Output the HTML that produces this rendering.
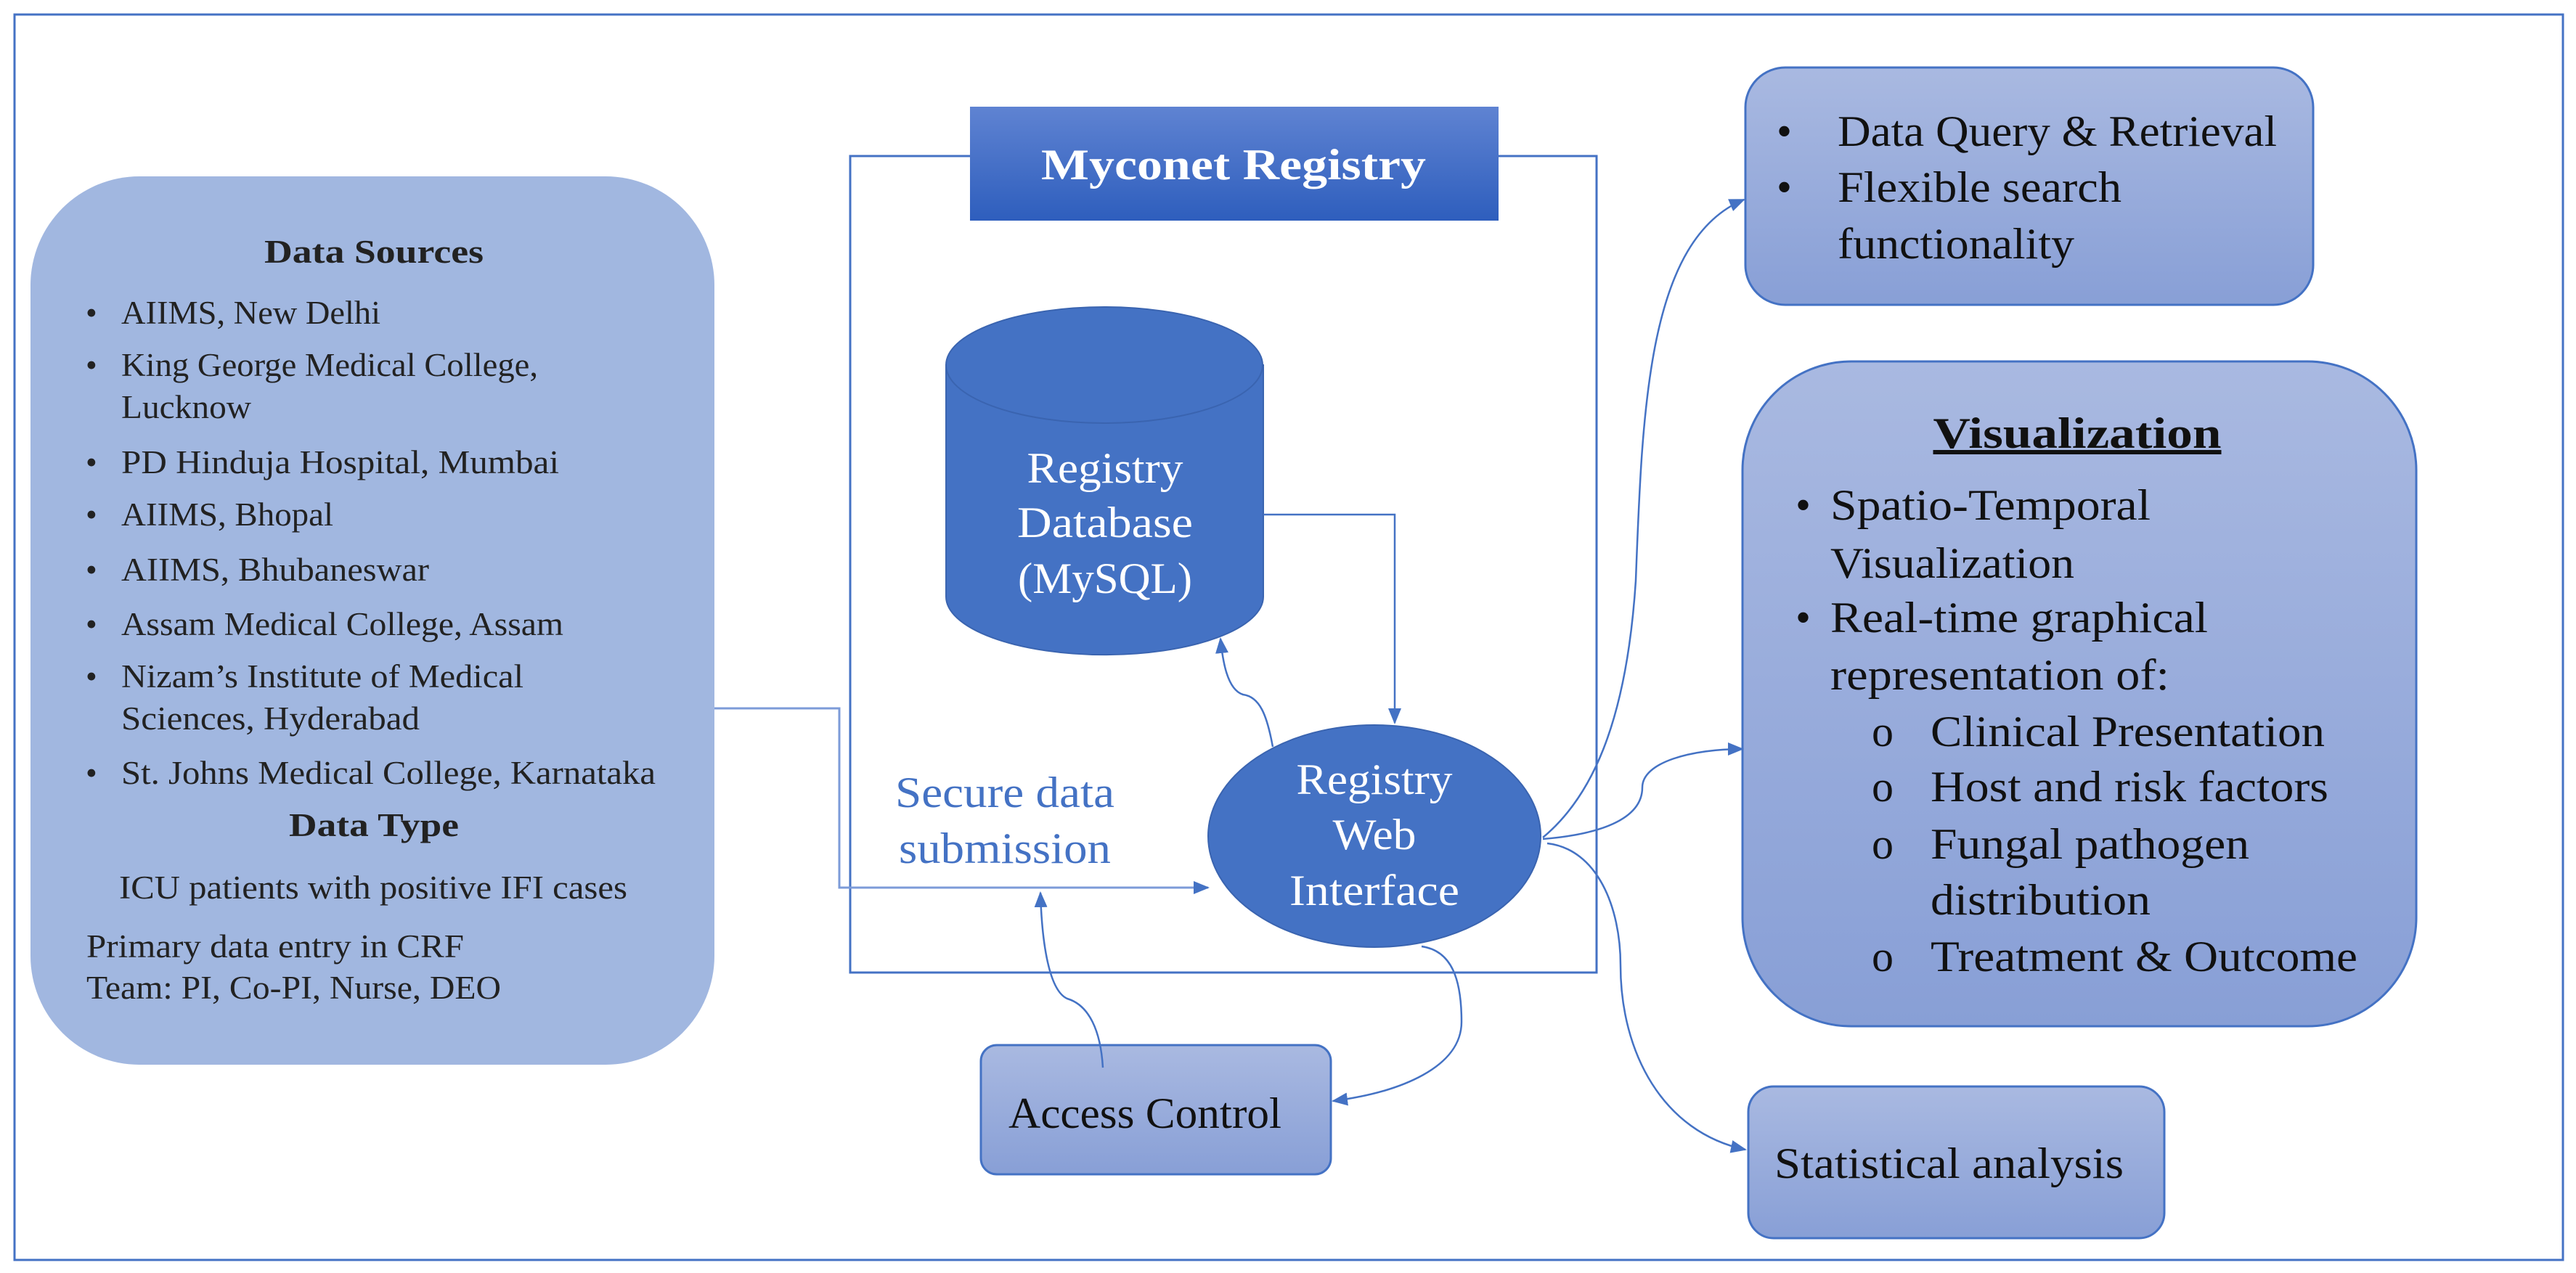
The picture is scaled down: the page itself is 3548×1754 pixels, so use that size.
<!DOCTYPE html>
<html><head><meta charset="utf-8"><style>
html,body{margin:0;padding:0;background:#fff}
svg{display:block}
text{font-family:"Liberation Serif",serif}
</style></head><body>
<svg width="3548" height="1754" viewBox="0 0 3548 1754" xmlns="http://www.w3.org/2000/svg">
<defs>
<linearGradient id="g1" x1="0" y1="0" x2="0" y2="1"><stop offset="0" stop-color="#A9B9E1"/><stop offset="1" stop-color="#889FD6"/></linearGradient>
<linearGradient id="g2" x1="0" y1="0" x2="0" y2="1"><stop offset="0" stop-color="#5F83D2"/><stop offset="1" stop-color="#2E5EBD"/></linearGradient>
<marker id="a" markerWidth="22" markerHeight="22" refX="20" refY="11" orient="auto" markerUnits="userSpaceOnUse"><path d="M0,2 L22,11 L0,20 z" fill="#4472C4"/></marker>
</defs>
<rect x="20" y="20" width="3510" height="1716" fill="none" stroke="#4472C4" stroke-width="3"/>

<!-- left box -->
<rect x="42" y="243" width="942" height="1224" rx="150" fill="#A1B7E0"/>
<g fill="#222" font-size="45">
<text x="515" y="362" text-anchor="middle" font-weight="bold" textLength="302" lengthAdjust="spacingAndGlyphs">Data Sources</text>
<text x="118" y="446">•</text><text x="167" y="446" textLength="357" lengthAdjust="spacingAndGlyphs">AIIMS, New Delhi</text>
<text x="118" y="518">•</text><text x="167" y="518" textLength="574" lengthAdjust="spacingAndGlyphs">King George Medical College,</text>
<text x="167" y="576" textLength="179" lengthAdjust="spacingAndGlyphs">Lucknow</text>
<text x="118" y="652">•</text><text x="167" y="652" textLength="603" lengthAdjust="spacingAndGlyphs">PD Hinduja  Hospital,  Mumbai</text>
<text x="118" y="724">•</text><text x="167" y="724" textLength="292" lengthAdjust="spacingAndGlyphs">AIIMS, Bhopal</text>
<text x="118" y="800">•</text><text x="167" y="800" textLength="424" lengthAdjust="spacingAndGlyphs">AIIMS, Bhubaneswar</text>
<text x="118" y="875">•</text><text x="167" y="875" textLength="609" lengthAdjust="spacingAndGlyphs">Assam Medical College,  Assam</text>
<text x="118" y="947">•</text><text x="167" y="947" textLength="554" lengthAdjust="spacingAndGlyphs">Nizam’s Institute of Medical</text>
<text x="167" y="1005" textLength="411" lengthAdjust="spacingAndGlyphs">Sciences, Hyderabad</text>
<text x="118" y="1080">•</text><text x="167" y="1080" textLength="736" lengthAdjust="spacingAndGlyphs">St. Johns Medical College,  Karnataka</text>
<text x="515" y="1152" text-anchor="middle" font-weight="bold" textLength="234" lengthAdjust="spacingAndGlyphs">Data Type</text>
<text x="164" y="1238" textLength="700" lengthAdjust="spacingAndGlyphs">ICU patients with positive IFI cases</text>
<text x="119" y="1319" textLength="520" lengthAdjust="spacingAndGlyphs">Primary data entry in CRF</text>
<text x="119" y="1376" textLength="571" lengthAdjust="spacingAndGlyphs">Team: PI, Co-PI, Nurse, DEO</text>
</g>

<!-- container -->
<rect x="1171" y="215" width="1028" height="1125" fill="none" stroke="#4472C4" stroke-width="3"/>
<rect x="1336" y="147" width="728" height="157" fill="url(#g2)"/>
<text x="1434" y="247" fill="#fff" font-size="60" font-weight="bold" textLength="530" lengthAdjust="spacingAndGlyphs">Myconet Registry</text>

<!-- cylinder -->
<path d="M1303,503 L1303,822 A218,80 0 0 0 1740,822 L1740,503 Z" fill="#4472C4" stroke="#3A64B0" stroke-width="2"/>
<ellipse cx="1521" cy="503" rx="218" ry="80" fill="#4472C4" stroke="#3A64B0" stroke-width="2"/>
<g fill="#fff" font-size="60" text-anchor="middle">
<text x="1522" y="665" textLength="215" lengthAdjust="spacingAndGlyphs">Registry</text>
<text x="1522" y="740" textLength="242" lengthAdjust="spacingAndGlyphs">Database</text>
<text x="1522" y="817" textLength="240" lengthAdjust="spacingAndGlyphs">(MySQL)</text>
</g>

<!-- ellipse -->
<ellipse cx="1893" cy="1152" rx="229" ry="153" fill="#4472C4" stroke="#3A64B0" stroke-width="2"/>
<g fill="#fff" font-size="60" text-anchor="middle">
<text x="1893" y="1094" textLength="215" lengthAdjust="spacingAndGlyphs">Registry</text>
<text x="1893" y="1170" textLength="115" lengthAdjust="spacingAndGlyphs">Web</text>
<text x="1893" y="1247" textLength="234" lengthAdjust="spacingAndGlyphs">Interface</text>
</g>

<g fill="#4472C4" font-size="60">
<text x="1233" y="1112" textLength="302" lengthAdjust="spacingAndGlyphs">Secure data</text>
<text x="1238" y="1189" textLength="292" lengthAdjust="spacingAndGlyphs">submission</text>
</g>

<!-- access control -->
<rect x="1351" y="1440" width="482" height="178" rx="22" fill="url(#g1)" stroke="#4472C4" stroke-width="3"/>
<text x="1389" y="1554" fill="#111" font-size="60" textLength="376" lengthAdjust="spacingAndGlyphs">Access Control</text>

<!-- right boxes -->
<rect x="2404" y="93" width="782" height="327" rx="55" fill="url(#g1)" stroke="#4472C4" stroke-width="3"/>
<g fill="#111" font-size="60">
<text x="2447" y="201">•</text><text x="2531" y="201" textLength="605" lengthAdjust="spacingAndGlyphs">Data Query &amp; Retrieval</text>
<text x="2447" y="278">•</text><text x="2531" y="278" textLength="391" lengthAdjust="spacingAndGlyphs">Flexible search</text>
<text x="2531" y="356" textLength="326" lengthAdjust="spacingAndGlyphs">functionality</text>
</g>

<rect x="2400" y="498" width="928" height="916" rx="150" fill="url(#g1)" stroke="#4472C4" stroke-width="3"/>
<g fill="#111" font-size="60">
<text x="2861" y="617" text-anchor="middle" font-weight="bold" text-decoration="underline" textLength="397" lengthAdjust="spacingAndGlyphs">Visualization</text>
<text x="2473" y="716">•</text><text x="2521" y="716" textLength="441" lengthAdjust="spacingAndGlyphs">Spatio-Temporal</text>
<text x="2521" y="796" textLength="336" lengthAdjust="spacingAndGlyphs">Visualization</text>
<text x="2473" y="871">•</text><text x="2521" y="871" textLength="520" lengthAdjust="spacingAndGlyphs">Real-time graphical</text>
<text x="2521" y="950" textLength="467" lengthAdjust="spacingAndGlyphs">representation of:</text>
<text x="2578" y="1028">o</text><text x="2659" y="1028" textLength="543" lengthAdjust="spacingAndGlyphs">Clinical Presentation</text>
<text x="2578" y="1104">o</text><text x="2659" y="1104" textLength="548" lengthAdjust="spacingAndGlyphs">Host and risk factors</text>
<text x="2578" y="1183">o</text><text x="2659" y="1183" textLength="439" lengthAdjust="spacingAndGlyphs">Fungal pathogen</text>
<text x="2659" y="1260" textLength="303" lengthAdjust="spacingAndGlyphs">distribution</text>
<text x="2578" y="1338">o</text><text x="2659" y="1338" textLength="588" lengthAdjust="spacingAndGlyphs">Treatment &amp; Outcome</text>
</g>

<rect x="2408" y="1497" width="573" height="209" rx="35" fill="url(#g1)" stroke="#4472C4" stroke-width="3"/>
<text x="2444" y="1623" fill="#111" font-size="60" textLength="481" lengthAdjust="spacingAndGlyphs">Statistical analysis</text>

<!-- connectors -->
<g fill="none" stroke="#4472C4" stroke-width="2.5">
<path d="M984,976 L1156,976 L1156,1223 L1664,1223" stroke="#7C9BD8" stroke-width="3" marker-end="url(#a)"/>
<path d="M1740,709 L1921,709 L1921,996" marker-end="url(#a)"/>
<path d="M1753,1029 C1745,985 1735,960 1712,957 C1690,950 1684,910 1681,880" marker-end="url(#a)"/>
<path d="M1519,1471 C1516,1420 1500,1385 1470,1376 C1445,1365 1435,1300 1433,1230" marker-end="url(#a)"/>
<path d="M1958,1304 C2000,1310 2013,1350 2013,1408 C2013,1470 1930,1505 1836,1517" marker-end="url(#a)"/>
<path d="M2125,1154 C2190,1100 2240,1000 2253,800 C2262,560 2270,330 2402,275" marker-end="url(#a)"/>
<path d="M2125,1156 C2200,1150 2262,1130 2262,1085 C2262,1050 2330,1032 2400,1032" marker-end="url(#a)"/>
<path d="M2131,1162 C2200,1170 2232,1250 2232,1330 C2232,1450 2290,1560 2404,1584" marker-end="url(#a)"/>
</g>
</svg>
</body></html>
